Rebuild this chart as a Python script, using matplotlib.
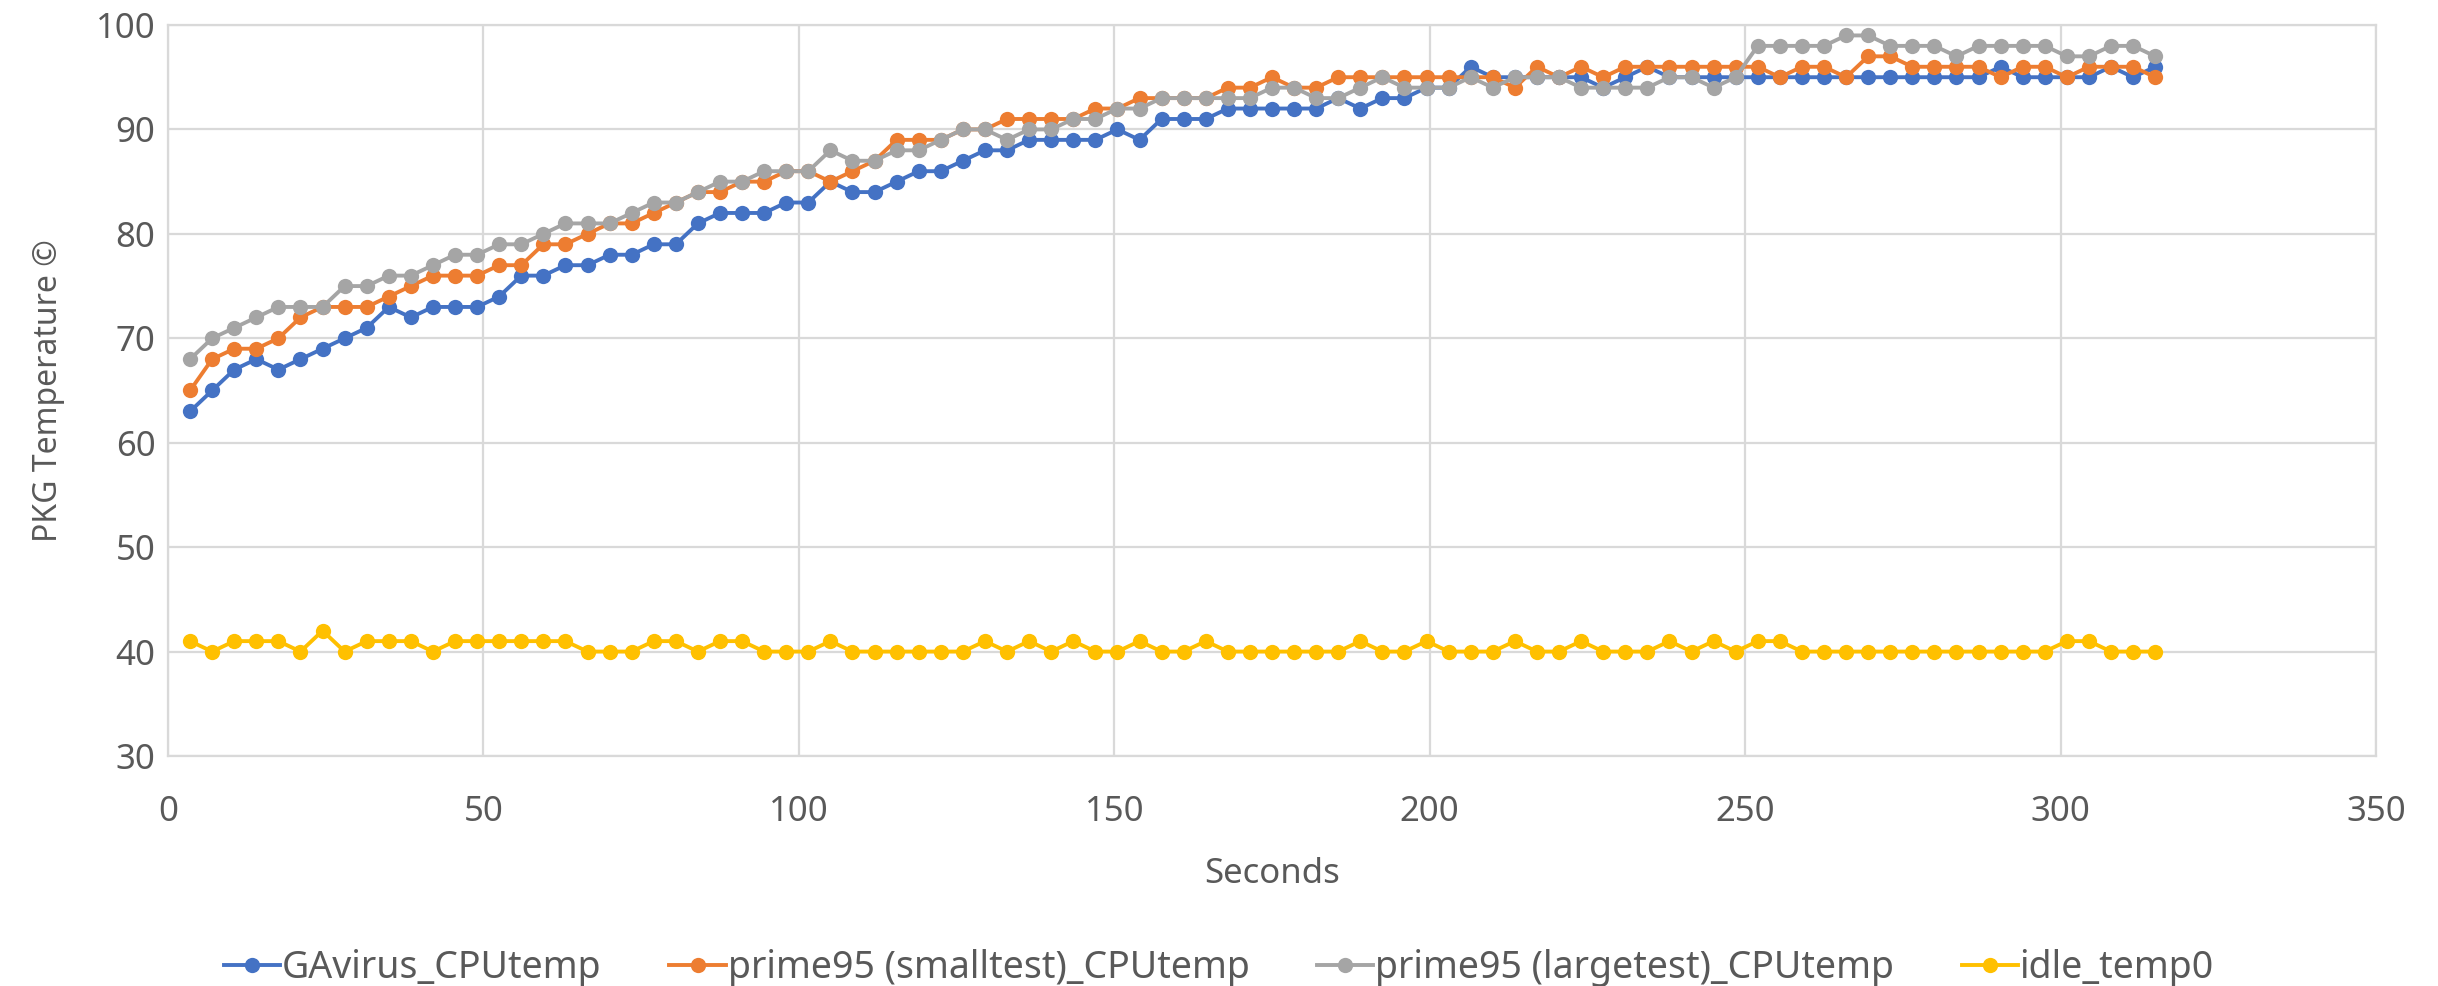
import numpy as np
import matplotlib
matplotlib.use("Agg")
import matplotlib.pyplot as plt

# Sampling instants (seconds)
seconds = [3.5 * k for k in range(1, 91)]

gavirus_cputemp = [
    63, 65, 67, 68, 67, 68, 69, 70, 71, 73,
    72, 73, 73, 73, 74, 76, 76, 77, 77, 78,
    78, 79, 79, 81, 82, 82, 82, 83, 83, 85,
    84, 84, 85, 86, 86, 87, 88, 88, 89, 89,
    89, 89, 90, 89, 91, 91, 91, 92, 92, 92,
    92, 92, 93, 92, 93, 93, 94, 94, 96, 95,
    95, 95, 95, 95, 94, 95, 96, 95, 95, 95,
    95, 95, 95, 95, 95, 95, 95, 95, 95, 95,
    95, 95, 96, 95, 95, 95, 95, 96, 95, 96,
]

prime95_small_cputemp = [
    65, 68, 69, 69, 70, 72, 73, 73, 73, 74,
    75, 76, 76, 76, 77, 77, 79, 79, 80, 81,
    81, 82, 83, 84, 84, 85, 85, 86, 86, 85,
    86, 87, 89, 89, 89, 90, 90, 91, 91, 91,
    91, 92, 92, 93, 93, 93, 93, 94, 94, 95,
    94, 94, 95, 95, 95, 95, 95, 95, 95, 95,
    94, 96, 95, 96, 95, 96, 96, 96, 96, 96,
    96, 96, 95, 96, 96, 95, 97, 97, 96, 96,
    96, 96, 95, 96, 96, 95, 96, 96, 96, 95,
]

prime95_large_cputemp = [
    68, 70, 71, 72, 73, 73, 73, 75, 75, 76,
    76, 77, 78, 78, 79, 79, 80, 81, 81, 81,
    82, 83, 83, 84, 85, 85, 86, 86, 86, 88,
    87, 87, 88, 88, 89, 90, 90, 89, 90, 90,
    91, 91, 92, 92, 93, 93, 93, 93, 93, 94,
    94, 93, 93, 94, 95, 94, 94, 94, 95, 94,
    95, 95, 95, 94, 94, 94, 94, 95, 95, 94,
    95, 98, 98, 98, 98, 99, 99, 98, 98, 98,
    97, 98, 98, 98, 98, 97, 97, 98, 98, 97,
]

idle_temp0 = [
    41, 40, 41, 41, 41, 40, 42, 40, 41, 41,
    41, 40, 41, 41, 41, 41, 41, 41, 40, 40,
    40, 41, 41, 40, 41, 41, 40, 40, 40, 41,
    40, 40, 40, 40, 40, 40, 41, 40, 41, 40,
    41, 40, 40, 41, 40, 40, 41, 40, 40, 40,
    40, 40, 40, 41, 40, 40, 41, 40, 40, 40,
    41, 40, 40, 41, 40, 40, 40, 41, 40, 41,
    40, 41, 41, 40, 40, 40, 40, 40, 40, 40,
    40, 40, 40, 40, 40, 41, 41, 40, 40, 40,
]

series_names = [
    "GAvirus_CPUtemp",
    "prime95 (smalltest)_CPUtemp",
    "prime95 (largetest)_CPUtemp",
    "idle_temp0",
]
series_values = [gavirus_cputemp, prime95_small_cputemp, prime95_large_cputemp, idle_temp0]
series_colors = ["#4472C4", "#ED7D31", "#A5A5A5", "#FFC000"]

x_ticks = [0, 50, 100, 150, 200, 250, 300, 350]
y_ticks = [30, 40, 50, 60, 70, 80, 90, 100]

text_color = "#595959"
grid_color = "#D9D9D9"

plt.rcParams["font.family"] = ["Noto Sans", "DejaVu Sans"]

fig = plt.figure(figsize=(24.38, 9.86), dpi=100)
ax = fig.add_axes([168 / 2438, 1 - 756 / 986, (2376 - 168) / 2438, (756 - 25) / 986])

for name, vals, col in zip(series_names, series_values, series_colors):
    ax.plot(seconds, vals, color=col, lw=2.8, marker="o", markersize=11,
            markeredgewidth=0, label=name, zorder=3)

ax.set_xlim(0, 350)
ax.set_ylim(30, 100)
ax.set_xticks(x_ticks)
ax.set_yticks(y_ticks)
ax.grid(True, color=grid_color, lw=1.6, zorder=0)
for sp in ax.spines.values():
    sp.set_color(grid_color)
    sp.set_linewidth(1.6)
ax.tick_params(axis="both", length=0, colors=text_color, labelsize=25)
ax.tick_params(axis="x", pad=28)
ax.tick_params(axis="y", pad=9)

ax.set_xlabel("Seconds", fontsize=25, color=text_color, labelpad=20)
ax.set_ylabel("PKG Temperature \u00a9", fontsize=23, color=text_color, labelpad=22)

leg = fig.legend(loc="center", bbox_to_anchor=(0.5, 1 - 968 / 986), ncol=4,
                 frameon=False, fontsize=27, handlelength=1.5, handletextpad=0.05,
                 columnspacing=1.8, labelcolor=text_color)

fig.savefig("out.png", dpi=100)
